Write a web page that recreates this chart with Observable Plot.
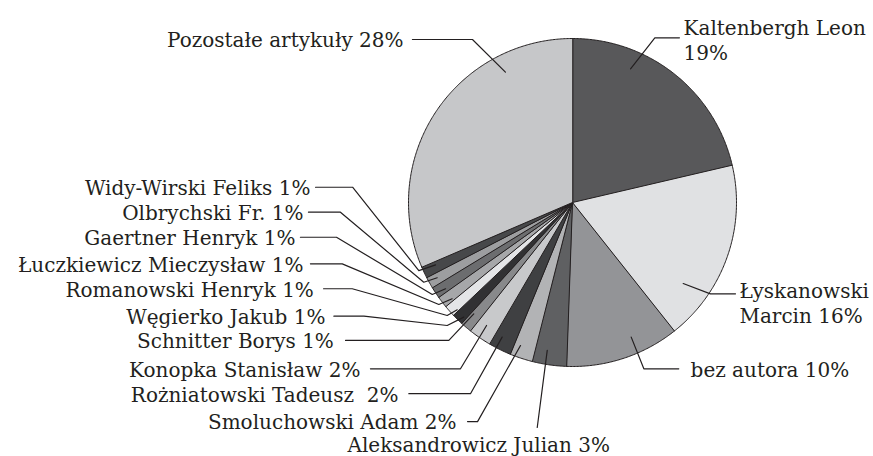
<!DOCTYPE html>
<html><head><meta charset="utf-8">
<script src="https://cdn.jsdelivr.net/npm/d3@7"></script>
<script src="https://cdn.jsdelivr.net/npm/@observablehq/plot@0.6"></script>
<style>html,body{margin:0;padding:0;background:#fff;}#chart{width:873px;height:456px;}</style>
</head><body><div id="chart"></div>
<script>
// ---- data (clockwise from 12 o'clock) ----
const authors = ["Kaltenbergh Leon","Łyskanowski Marcin","bez autora","Aleksandrowicz Julian","Smoluchowski Adam","Rożniatowski Tadeusz","Konopka Stanisław","Schnitter Borys","Węgierko Jakub","Romanowski Henryk","Łuczkiewicz Mieczysław","Gaertner Henryk","Olbrychski Fr.","Widy-Wirski Feliks","Pozostałe artykuły"];
const shares = [19,16,10,3,2,2,2,1,1,1,1,1,1,1,28];
const labelTexts = ["Kaltenbergh Leon\n19%","Łyskanowski\nMarcin 16%","bez autora 10%","Aleksandrowicz Julian 3%","Smoluchowski Adam 2%","Rożniatowski Tadeusz\u00a0 2%","Konopka Stanisław 2%","Schnitter Borys 1%","Węgierko Jakub 1%","Romanowski Henryk 1%","Łuczkiewicz Mieczysław 1%","Gaertner Henryk 1%","Olbrychski Fr. 1%","Widy-Wirski Feliks 1%","Pozostałe artykuły 28%"];

// ---- styles ----
const sliceColors = ["#58585a","#e0e1e3","#939497","#5f6062","#b2b3b5","#3f4042","#c8c9cb","#88898b","#313133","#e4e5e7","#a6a7a9","#6c6d6f","#9d9ea0","#47484a","#c6c7c9"];
const ink = "#231f20";

// ---- layout (units of pie radius, origin at pie centre, y downward) ----
const R = 164, CX = 572, CY = 202, W = 873, H = 456;
const leaderPaths = [
  [[0.354,-0.815],[0.502,-1.004],[0.652,-1.004]],
  [[0.675,0.494],[0.841,0.557],[0.994,0.557]],
  [[0.358,0.821],[0.435,1.014],[0.648,1.014]],
  [[-0.154,0.902],[-0.215,1.372]],
  [[-0.317,0.872],[-0.579,1.336],[-0.640,1.336]],
  [[-0.429,0.821],[-0.622,1.166],[-0.998,1.166]],
  [[-0.524,0.750],[-0.683,1.014],[-1.232,1.014]],
  [[-0.602,0.679],[-0.754,0.841],[-1.384,0.841]],
  [[-0.663,0.699],[-0.764,0.750],[-1.272,0.693],[-1.455,0.693]],
  [[-0.703,0.654],[-0.764,0.689],[-1.343,0.526],[-1.518,0.526]],
  [[-0.734,0.587],[-0.815,0.622],[-1.404,0.374],[-1.598,0.374]],
  [[-0.774,0.526],[-0.855,0.561],[-1.439,0.212],[-1.659,0.212]],
  [[-0.825,0.459],[-0.907,0.486],[-1.415,0.059],[-1.610,0.059]],
  [[-0.835,0.380],[-0.937,0.415],[-1.341,-0.093],[-1.567,-0.093]],
  [[-0.409,-0.795],[-0.610,-0.994],[-0.976,-0.994]]
];
const labelAt = [
  [0.677,-0.996,"start"],[1.018,0.610,"start"],[0.720,1.014,"start"],[-1.372,1.475,"start"],
  [-0.707,1.333,"end"],[-1.061,1.166,"end"],[-1.293,1.014,"end"],[-1.455,0.841,"end"],
  [-1.506,0.693,"end"],[-1.577,0.526,"end"],[-1.640,0.374,"end"],[-1.689,0.212,"end"],
  [-1.640,0.059,"end"],[-1.598,-0.093,"end"],[-1.030,-0.994,"end"]
];

// ---- slices via d3.pie ----
const arcs = d3.pie().sort(null).value(d => d)(shares);
const sliceMarks = arcs.map((a, i) => {
  const pts = [{x: 0, y: 0}];
  const n = Math.max(2, Math.ceil((a.endAngle - a.startAngle) / (Math.PI / 360)));
  for (let k = 0; k <= n; k++) {
    const t = a.startAngle + (a.endAngle - a.startAngle) * k / n;
    pts.push({x: Math.sin(t), y: -Math.cos(t)});
  }
  return Plot.line(pts, {x: "x", y: "y", curve: "linear-closed", fill: sliceColors[i], stroke: ink, strokeWidth: 1});
});

const leaders = leaderPaths.flatMap((p, i) => p.map(([x, y]) => ({id: i, x, y})));
const labels = authors.map((a, i) => ({author: a, text: labelTexts[i], x: labelAt[i][0], y: labelAt[i][1], anchor: labelAt[i][2]}));

const textOpts = {x: "x", y: "y", text: "text", fontFamily: "'DejaVu Serif', serif", fontSize: 20, fill: ink, lineHeight: 1.25};

const chart = Plot.plot({
  width: W, height: H, margin: 0,
  x: {domain: [-CX / R, (W - CX) / R], range: [0, W], axis: null},
  y: {domain: [-CY / R, (H - CY) / R], range: [0, H], axis: null},
  style: {background: "#fff", overflow: "visible"},
  marks: [
    ...sliceMarks,
    Plot.line(leaders, {x: "x", y: "y", z: "id", stroke: ink, strokeWidth: 1.2}),
    Plot.text(labels.filter(d => d.anchor === "start"), {...textOpts, textAnchor: "start"}),
    Plot.text(labels.filter(d => d.anchor === "end"), {...textOpts, textAnchor: "end"})
  ]
});
document.getElementById("chart").appendChild(chart);
</script>
</body></html>
